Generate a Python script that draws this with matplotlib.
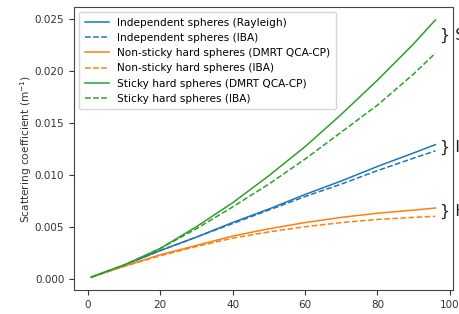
import matplotlib
matplotlib.use("Agg")
import matplotlib.pyplot as plt

x = [1, 10, 20, 30, 40, 50, 60, 70, 80, 90, 96]

indep_rayleigh = [0.00015, 0.00130, 0.0027, 0.0040, 0.0054, 0.0067, 0.0081, 0.0094, 0.0108, 0.0121, 0.0129]
indep_iba      = [0.00015, 0.00130, 0.0027, 0.0040, 0.0053, 0.0066, 0.0079, 0.0091, 0.0104, 0.0116, 0.0123]
nonsticky_dmrt = [0.00015, 0.00120, 0.0023, 0.0032, 0.0041, 0.0048, 0.0054, 0.0059, 0.0063, 0.0066, 0.0068]
nonsticky_iba  = [0.00015, 0.00118, 0.0022, 0.0031, 0.0039, 0.0045, 0.0050, 0.0054, 0.0057, 0.0059, 0.0060]
sticky_dmrt    = [0.00015, 0.00130, 0.0029, 0.0050, 0.0073, 0.0099, 0.0127, 0.0158, 0.0191, 0.0226, 0.0249]
sticky_iba     = [0.00015, 0.00130, 0.0029, 0.0048, 0.0069, 0.0091, 0.0115, 0.0141, 0.0167, 0.0197, 0.0217]

labels = ["Independent spheres (Rayleigh)", "Independent spheres (IBA)",
          "Non-sticky hard spheres (DMRT QCA-CP)", "Non-sticky hard spheres (IBA)",
          "Sticky hard spheres (DMRT QCA-CP)", "Sticky hard spheres (IBA)"]
group_text = ["} S", "} I", "} H"]
group_y = [0.0234, 0.0126, 0.00645]

fig = plt.figure(figsize=(4.6, 3.14), dpi=100)
ax = fig.add_axes([0.161, 0.0764, 0.823, 0.9013])

series = [indep_rayleigh, indep_iba, nonsticky_dmrt, nonsticky_iba, sticky_dmrt, sticky_iba]
colors = ["#1f77b4", "#1f77b4", "#ff7f0e", "#ff7f0e", "#2ca02c", "#2ca02c"]
styles = ["-", "--", "-", "--", "-", "--"]
for s, c, ls, lab in zip(series, colors, styles, labels):
    ax.plot(x, s, color=c, ls=ls, lw=1.1, label=lab)

ax.set_xticks([0, 20, 40, 60, 80, 100])
ax.set_yticks([0.0, 0.005, 0.010, 0.015, 0.020, 0.025])
ax.set_yticklabels(["0.000", "0.005", "0.010", "0.015", "0.020", "0.025"])
ax.tick_params(labelsize=7.5, width=0.8, length=3.5, colors="#333333")
for sp in ax.spines.values():
    sp.set_color("#444444")
    sp.set_linewidth(0.8)

ax.set_ylabel("Scattering coefficient (m$^{-1}$)", fontsize=7.7, color="#333333")
ax.yaxis.set_label_coords(-0.107, 0.5)
ax.set_xlabel("Sphere diameter (μm)", fontsize=7.7, color="#333333")
ax.xaxis.set_label_coords(0.5, -0.093)

ax.legend(loc="upper left", fontsize=7.6, handlelength=2.3, borderpad=0.5,
          labelspacing=0.5, framealpha=0.8, edgecolor="#cccccc")

for t, yv in zip(group_text, group_y):
    ax.text(97.3, yv, t, fontsize=11.5, va="center", ha="left", color="#222222",
            clip_on=False)

fig.savefig("out.png", dpi=100)
